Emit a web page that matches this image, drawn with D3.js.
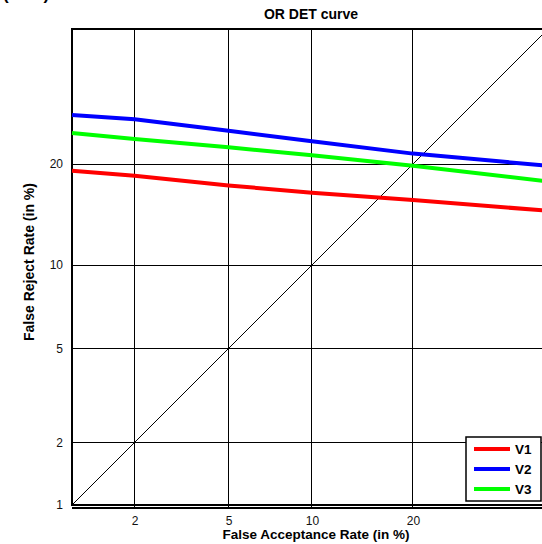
<!DOCTYPE html>
<html>
<head>
<meta charset="utf-8">
<script src="https://cdn.jsdelivr.net/npm/d3@7"></script>
<style>
  html, body { margin: 0; padding: 0; background: #fff; }
  svg { display: block; font-family: "Liberation Sans", Arial, sans-serif; }
</style>
</head>
<body>
<svg id="chart" width="542" height="544"></svg>
<script>
// ---- data (percent) ----
const farPoints = [1, 2, 5, 10, 20, 40];
const seriesNames = ["V1", "V2", "V3"];
const seriesColors = ["#ff0000", "#0000ff", "#00ff00"];
const v1 = [19.2, 18.6, 17.5, 16.7, 15.9, 14.8];
const v2 = [26.5, 25.9, 24.3, 22.9, 21.3, 19.8];
const v3 = [24.0, 23.2, 22.1, 21.1, 19.8, 17.95];
const xTicks = [2, 5, 10, 20];
const yTicks = [1, 2, 5, 10, 20];
const domainPct = [1, 40];

// inverse normal CDF (Acklam)
function probit(p) {
  const a = [-3.969683028665376e+01, 2.209460984245205e+02, -2.759285104469687e+02, 1.383577518672690e+02, -3.066479806614716e+01, 2.506628277459239e+00];
  const b = [-5.447609879822406e+01, 1.615858368580409e+02, -1.556989798598866e+02, 6.680131188771972e+01, -1.328068155288572e+01];
  const c = [-7.784894002430293e-03, -3.223964580411365e-01, -2.400758277161838e+00, -2.549732539343734e+00, 4.374664141464968e+00, 2.938163982698783e+00];
  const d = [7.784695709041462e-03, 3.224671290700398e-01, 2.445134137142996e+00, 3.754408661907416e+00];
  const pl = 0.02425, ph = 1 - pl;
  let q, r;
  if (p < pl) {
    q = Math.sqrt(-2 * Math.log(p));
    return (((((c[0]*q+c[1])*q+c[2])*q+c[3])*q+c[4])*q+c[5]) / ((((d[0]*q+d[1])*q+d[2])*q+d[3])*q+1);
  } else if (p <= ph) {
    q = p - 0.5; r = q * q;
    return (((((a[0]*r+a[1])*r+a[2])*r+a[3])*r+a[4])*r+a[5])*q / (((((b[0]*r+b[1])*r+b[2])*r+b[3])*r+b[4])*r+1);
  } else {
    q = Math.sqrt(-2 * Math.log(1 - p));
    return -(((((c[0]*q+c[1])*q+c[2])*q+c[3])*q+c[4])*q+c[5]) / ((((d[0]*q+d[1])*q+d[2])*q+d[3])*q+1);
  }
}
const pz = v => probit(v / 100);

const L = 72, R = 548, T = 29, B = 505;
const svg = d3.select("#chart");

const x = d3.scaleLinear().domain(domainPct.map(pz)).range([L, R]);
const y = d3.scaleLinear().domain(domainPct.map(pz)).range([B, T]);
const X = v => x(pz(v)), Y = v => y(pz(v));

// clipped top-left fragment (as in the reference)
svg.append("text").attr("x", 3).attr("y", 0).attr("font-size", 17).attr("font-weight", "bold").text("(in %)");

// title
svg.append("text").attr("x", 311).attr("y", 19).attr("text-anchor", "middle")
  .attr("font-size", 14).attr("font-weight", "bold").text("OR DET curve");

// grid
const g = svg.append("g");
g.selectAll("line.vx").data(xTicks).join("line")
  .attr("x1", d => X(d)).attr("x2", d => X(d)).attr("y1", T).attr("y2", B + 3)
  .attr("stroke", "#000").attr("stroke-width", 1).attr("shape-rendering", "crispEdges");
g.selectAll("line.hy").data(yTicks.filter(d => d > 1)).join("line")
  .attr("y1", d => Y(d)).attr("y2", d => Y(d)).attr("x1", L).attr("x2", R)
  .attr("stroke", "#000").attr("stroke-width", 1).attr("shape-rendering", "crispEdges");

// box
svg.append("rect").attr("x", L).attr("y", T).attr("width", R - L).attr("height", B - T)
  .attr("fill", "none").attr("stroke", "#000").attr("stroke-width", 1.5).attr("shape-rendering", "crispEdges");

// axes
const xAxis = d3.axisBottom(x).tickValues(xTicks.map(pz)).tickSize(0).tickPadding(8)
  .tickFormat((d, i) => xTicks[i]);
const xa = svg.append("g").attr("transform", `translate(0,${B + 3})`).call(xAxis);
xa.select(".domain").attr("stroke-width", 2).attr("d", `M${L},0H${R}`);
xa.selectAll("text").attr("font-size", 12).attr("font-family", "Liberation Sans, Arial, sans-serif").attr("fill", "#111");

const yAxis = d3.axisLeft(y).tickValues(yTicks.map(pz)).tickSize(0).tickPadding(9)
  .tickFormat((d, i) => yTicks[i]);
const ya = svg.append("g").attr("transform", `translate(${L},0)`).call(yAxis);
ya.select(".domain").remove();
ya.selectAll("text").attr("font-size", 12).attr("font-family", "Liberation Sans, Arial, sans-serif").attr("fill", "#111");

// diagonal
svg.append("line").attr("x1", X(domainPct[0])).attr("y1", Y(domainPct[0]))
  .attr("x2", X(domainPct[1])).attr("y2", Y(domainPct[1]))
  .attr("stroke", "#000").attr("stroke-width", 1);

// curves
const series = [v1, v2, v3];
const line = d3.line().x((d, i) => X(farPoints[i])).y(d => Y(d));
svg.selectAll("path.curve").data(series).join("path")
  .attr("class", "curve").attr("d", line).attr("fill", "none")
  .attr("stroke", (d, i) => seriesColors[i]).attr("stroke-width", 4);

// axis labels
svg.append("text").attr("x", 316).attr("y", 539).attr("text-anchor", "middle")
  .attr("font-size", 13.5).attr("font-weight", "bold").text("False Acceptance Rate (in %)");
svg.append("text").attr("transform", `translate(34,${262}) rotate(-90)`).attr("text-anchor", "middle")
  .attr("font-size", 14).attr("font-weight", "bold").text("False Reject Rate (in %)");

// legend
const lg = svg.append("g").attr("transform", "translate(466,437)");
lg.append("rect").attr("width", 75).attr("height", 64).attr("fill", "#fff")
  .attr("stroke", "#000").attr("stroke-width", 1.5);
const items = lg.selectAll("g.it").data(seriesNames).join("g")
  .attr("transform", (d, i) => `translate(0,${12 + i * 20})`);
items.append("line").attr("x1", 8).attr("x2", 44).attr("stroke", (d, i) => seriesColors[i]).attr("stroke-width", 4);
items.append("text").attr("x", 49).attr("y", 5).attr("font-size", 13.5).attr("font-weight", "bold").text(d => d);
</script>
</body>
</html>
